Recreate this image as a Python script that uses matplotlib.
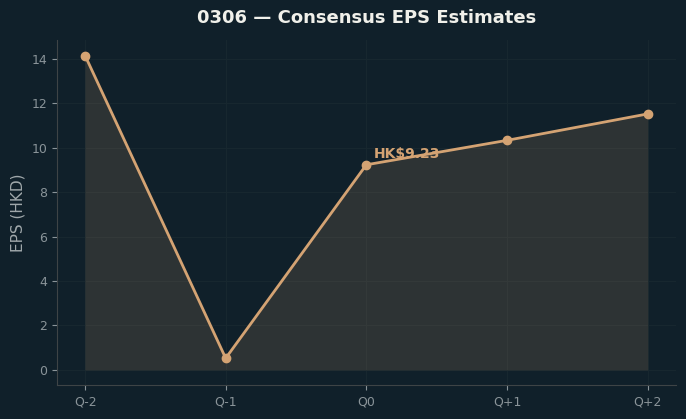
import matplotlib.pyplot as plt

# Consensus EPS estimates, 0306
quarters = ["Q-2", "Q-1", "Q0", "Q+1", "Q+2"]
eps = [14.15, 0.52, 9.23, 10.33, 11.52]
label_text = "HK$9.23"

bg = "#10202a"
accent = "#d4a373"

fig, ax = plt.subplots(figsize=(6.86, 4.19), dpi=100)
fig.patch.set_facecolor(bg)
ax.set_facecolor(bg)

x = list(range(len(quarters)))
ax.fill_between(x, eps, 0, color=accent, alpha=0.15, edgecolor="#3a3a36", linewidth=1)
ax.plot(x, eps, color=accent, linewidth=2, marker="o", markersize=6)
ax.annotate(label_text, (x[2], eps[2]), xytext=(5, 5), textcoords="offset points",
            color=accent, fontsize=10, fontweight="bold")

ax.set_xticks(x)
ax.set_xticklabels(quarters)
ax.set_ylabel("EPS (HKD)", color="#a0a8ab", fontsize=11)
ax.set_title("0306 — Consensus EPS Estimates", color="#f0f0ea", fontsize=13,
             fontweight="bold", pad=12)

ax.tick_params(colors="#8a9499", labelsize=9)
ax.grid(True, color="#17272f", linewidth=0.8)
ax.set_axisbelow(True)
for side in ["top", "right"]:
    ax.spines[side].set_visible(False)
for side in ["left", "bottom"]:
    ax.spines[side].set_color("#3e4446")

plt.subplots_adjust(left=0.083, right=0.985, top=0.905, bottom=0.08)
plt.savefig("out.png", facecolor=bg)
